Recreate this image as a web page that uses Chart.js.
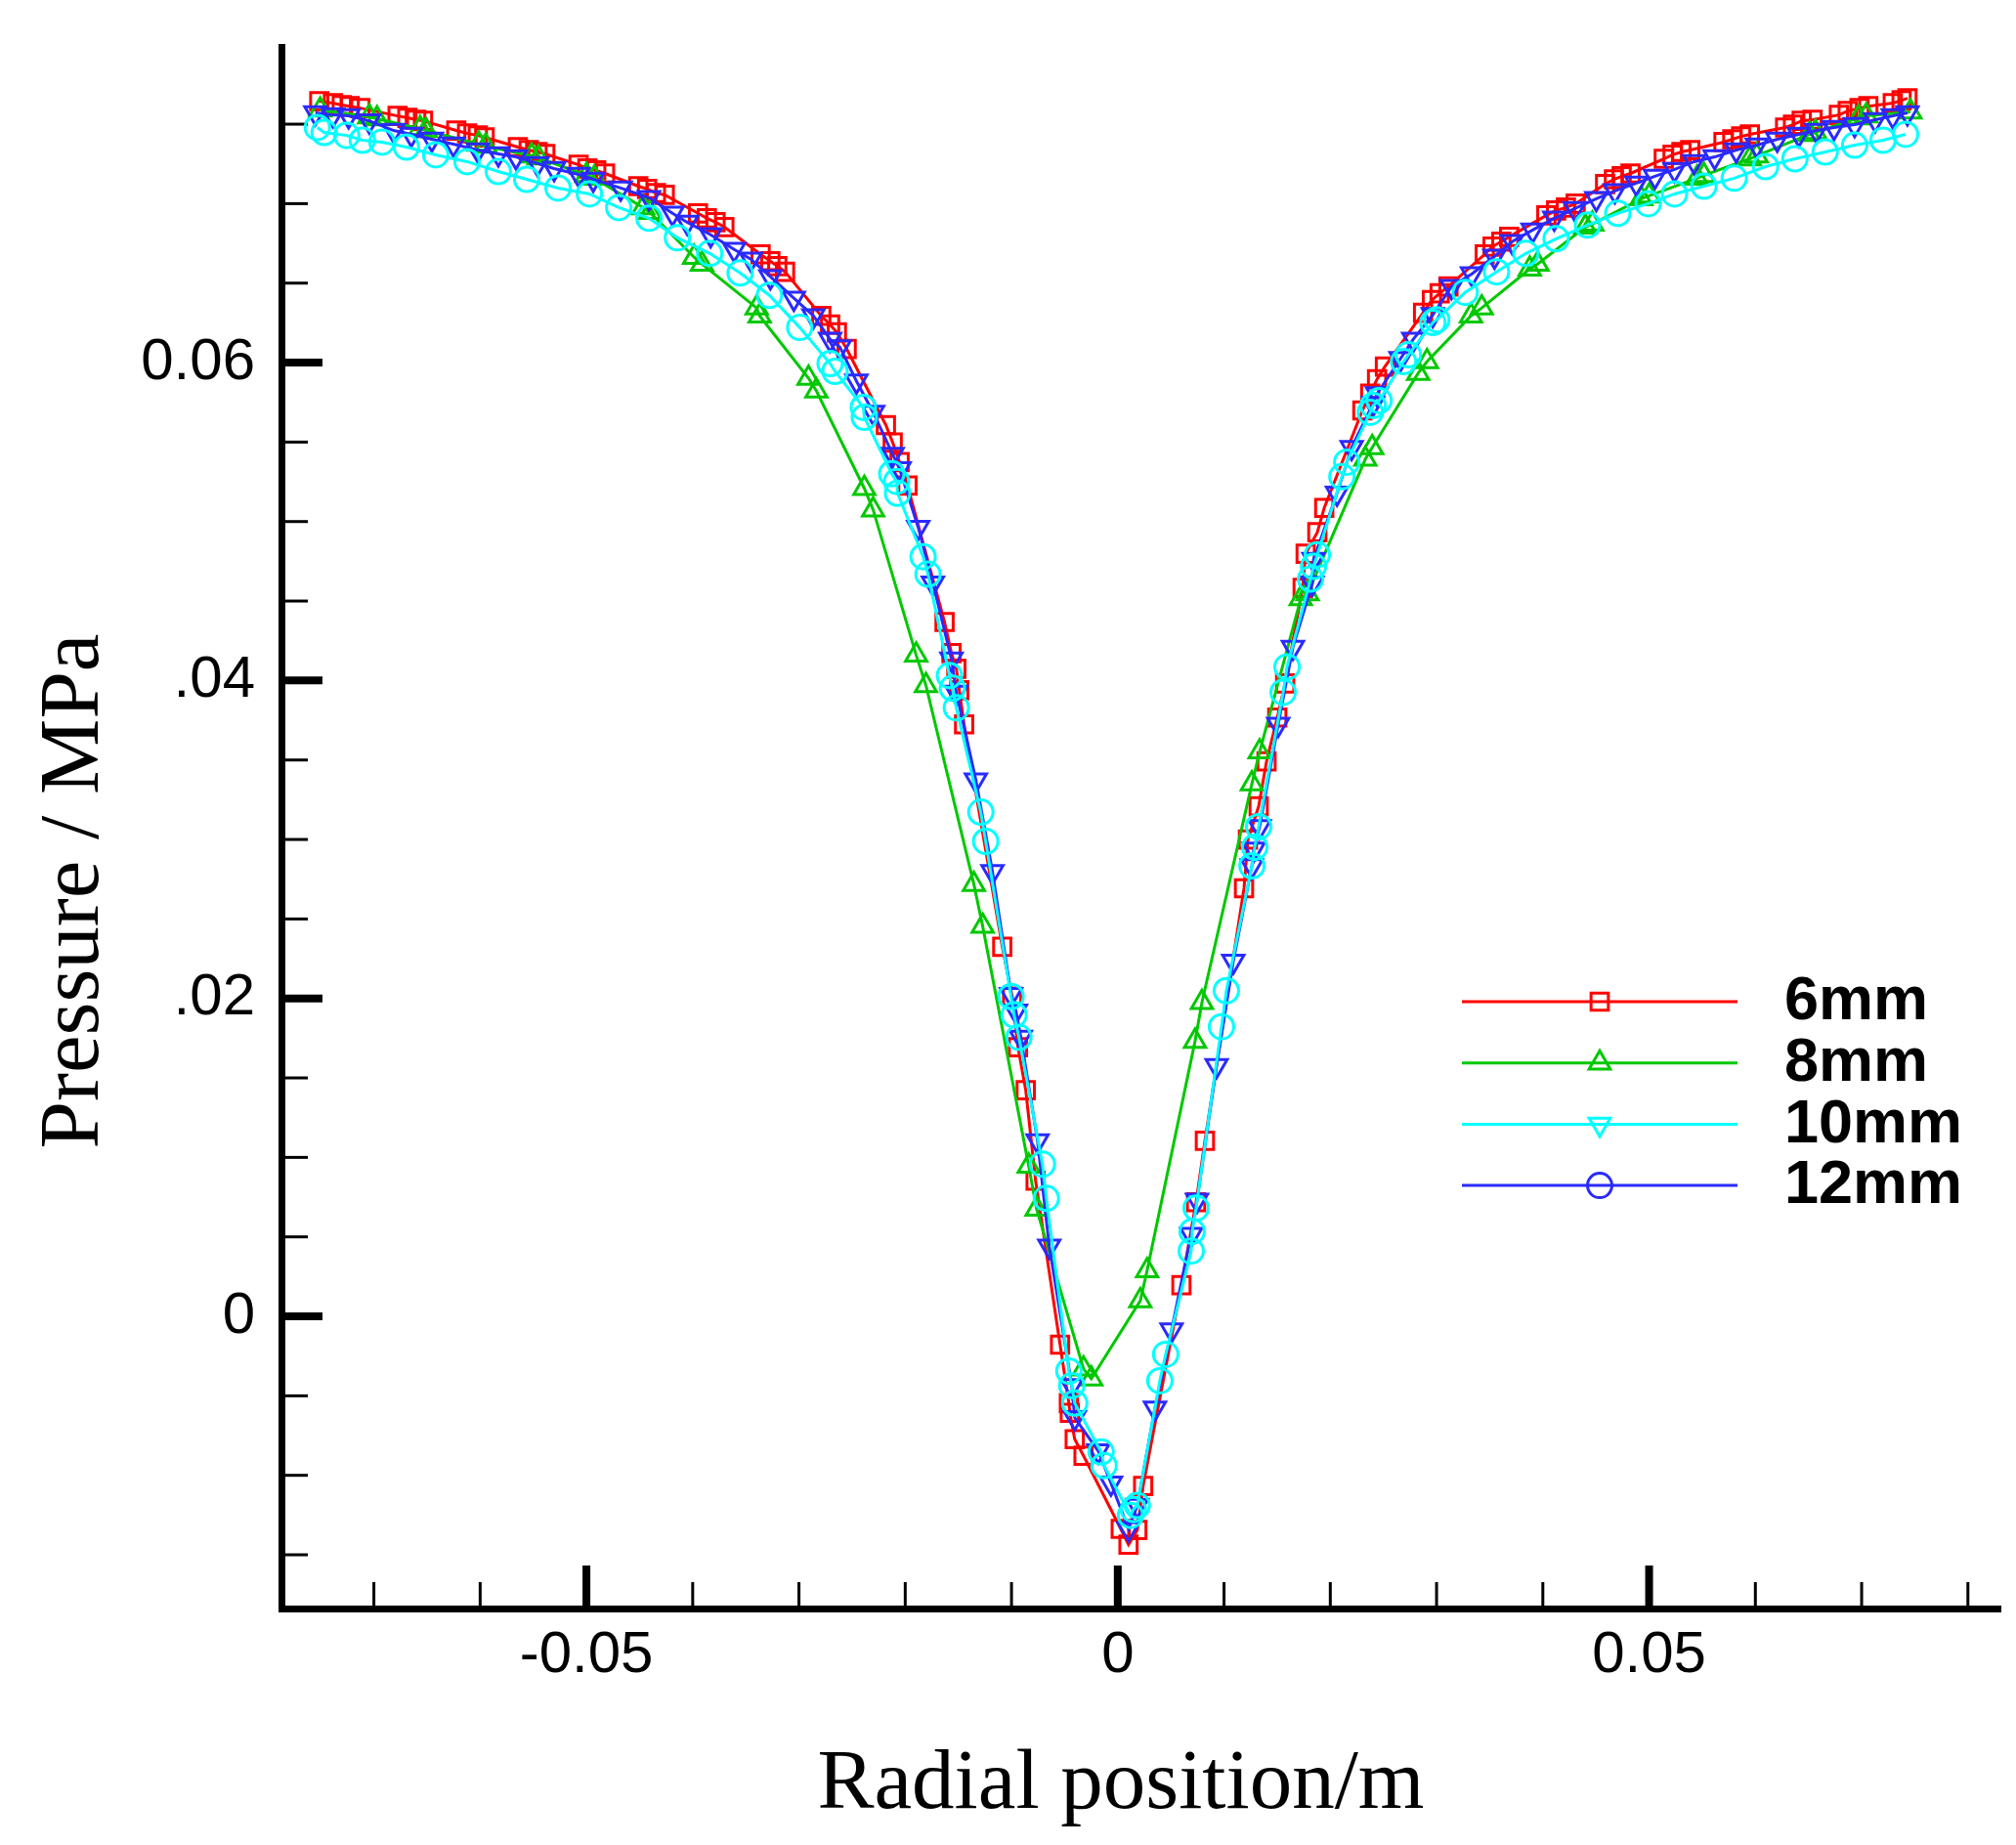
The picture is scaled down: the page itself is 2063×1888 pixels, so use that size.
<!DOCTYPE html>
<html>
<head>
<meta charset="utf-8">
<script src="https://cdn.jsdelivr.net/npm/chart.js@4.4.0/dist/chart.umd.min.js"></script>
<style>
  html, body { margin: 0; padding: 0; background: #fff; }
  #wrap { width: 2063px; height: 1888px; }
</style>
</head>
<body>
<div id="wrap"><canvas id="myChart" width="2063" height="1888"></canvas></div>
<script>
// 6mm (red squares)
const x6 = [
  -0.07514, -0.07385, -0.07302, -0.07228, -0.07127,
  -0.06777, -0.06685, -0.06602, -0.06538,
  -0.06225, -0.06123, -0.06022, -0.05958,
  -0.05645, -0.05543, -0.05460, -0.05387,
  -0.05074, -0.04991, -0.04908, -0.04825,
  -0.04512, -0.04429, -0.04346, -0.04263,
  -0.03950, -0.03867, -0.03785, -0.03702,
  -0.03361, -0.03269, -0.03204, -0.03131,
  -0.02790, -0.02707, -0.02643, -0.02551,
  -0.02182, -0.02118, -0.02053, -0.01979,
  -0.01630, -0.01565, -0.01519, -0.01492, -0.01446,
  -0.01087, -0.00994, -0.00939, -0.00866, -0.00773,
  -0.00543, -0.00460, -0.00451, -0.00405, -0.00322,
  0.00028, 0.00101, 0.00184, 0.00239,
  0.00599, 0.00737, 0.00820,
  0.01188, 0.01225, 0.01326, 0.01400,
  0.01501, 0.01575,
  0.01740, 0.01768, 0.01878, 0.01943,
  0.02302, 0.02376, 0.02440, 0.02514,
  0.02873, 0.02956, 0.03029, 0.03112,
  0.03453, 0.03527, 0.03610, 0.03683,
  0.04033, 0.04125, 0.04217, 0.04309,
  0.04586, 0.04669, 0.04742, 0.04825,
  0.05138, 0.05221, 0.05304, 0.05387,
  0.05700, 0.05783, 0.05866, 0.05948,
  0.06280, 0.06354, 0.06436, 0.06538,
  0.06786, 0.06869, 0.06980, 0.07063,
  0.07293, 0.07376, 0.07431
];
const y6 = [
  0.07644, 0.07632, 0.07620, 0.07613, 0.07601,
  0.07552, 0.07540, 0.07528, 0.07521,
  0.07460, 0.07442, 0.07429, 0.07417,
  0.07356, 0.07337, 0.07325, 0.07313,
  0.07245, 0.07221, 0.07209, 0.07190,
  0.07110, 0.07092, 0.07067, 0.07055,
  0.06939, 0.06908, 0.06883, 0.06853,
  0.06681, 0.06638, 0.06607, 0.06571,
  0.06294, 0.06239, 0.06190, 0.06086,
  0.05607, 0.05497, 0.05374, 0.05227,
  0.04368, 0.04172, 0.04074, 0.03939, 0.03724,
  0.02325, 0.02012, 0.01693, 0.01423, 0.00853,
  -0.00178, -0.00546, -0.00607, -0.00773, -0.00877,
  -0.01337, -0.01436, -0.01344, -0.01067,
  0.00196, 0.00718, 0.01104,
  0.02693, 0.03000, 0.03209, 0.03491,
  0.03767, 0.03982,
  0.04583, 0.04798, 0.04933, 0.05086,
  0.05699, 0.05804, 0.05896, 0.05975,
  0.06313, 0.06393, 0.06436, 0.06479,
  0.06681, 0.06730, 0.06761, 0.06791,
  0.06926, 0.06957, 0.06975, 0.07000,
  0.07123, 0.07153, 0.07172, 0.07190,
  0.07282, 0.07307, 0.07325, 0.07337,
  0.07387, 0.07405, 0.07423, 0.07436,
  0.07479, 0.07497, 0.07521, 0.07528,
  0.07558, 0.07583, 0.07601, 0.07613,
  0.07632, 0.07650, 0.07663
];

// 8mm (green triangles)
const x8 = [
  -0.07505, -0.07044, -0.06971, -0.06565, -0.06510, -0.06013, -0.05948, -0.05516, -0.05451, -0.05000,
  -0.04926, -0.04466, -0.04401, -0.03987, -0.03913, -0.03398, -0.03370, -0.02910, -0.02836, -0.02385,
  -0.02302, -0.01897, -0.01805, -0.01354, -0.01271, -0.00838, -0.00764, -0.00322, -0.00249, 0.00212,
  0.00276, 0.00727, 0.00792, 0.01262, 0.01335, 0.01722, 0.01786, 0.02330, 0.02394, 0.02827,
  0.02910, 0.03324, 0.03425, 0.03877, 0.03950, 0.04401, 0.04466, 0.04926, 0.05000, 0.05451,
  0.05516, 0.05948, 0.06013, 0.06510, 0.06565, 0.06971, 0.07044, 0.07459
];
const y8 = [
  0.07589, 0.07546, 0.07534, 0.07472, 0.07460, 0.07374, 0.07362, 0.07301, 0.07288, 0.07178,
  0.07160, 0.06975, 0.06945, 0.06663, 0.06620, 0.06344, 0.06294, 0.05902, 0.05822, 0.05209,
  0.05074, 0.04160, 0.03969, 0.02718, 0.02454, 0.00945, 0.00675, -0.00331, -0.00393, 0.00098,
  0.00288, 0.01730, 0.01975, 0.03350, 0.03552, 0.04515, 0.04546, 0.05393, 0.05466, 0.05933,
  0.06006, 0.06294, 0.06344, 0.06589, 0.06620, 0.06853, 0.06871, 0.07031, 0.07049, 0.07160,
  0.07178, 0.07282, 0.07301, 0.07436, 0.07448, 0.07540, 0.07552, 0.07577
];

// 10mm (cyan line, circles in the plot)
const x10 = [
  -0.07532, -0.07468, -0.07256, -0.07109, -0.06924, -0.06694, -0.06418, -0.06123, -0.05829, -0.05562,
  -0.05267, -0.04972, -0.04696, -0.04411, -0.04144, -0.03840, -0.03554, -0.03278, -0.02993, -0.02707,
  -0.02661, -0.02394, -0.02385, -0.02127, -0.02081, -0.02072, -0.01832, -0.01786, -0.01584, -0.01556,
  -0.01519, -0.01289, -0.01243, -0.01004, -0.00976, -0.00930, -0.00709, -0.00672, -0.00460, -0.00433,
  -0.00405, -0.00157, -0.00129, 0.00120, 0.00147, 0.00184, 0.00396, 0.00451, 0.00691, 0.00700,
  0.00737, 0.00976, 0.01022, 0.01262, 0.01289, 0.01326, 0.01556, 0.01593, 0.01814, 0.01842,
  0.01878, 0.02109, 0.02155, 0.02376, 0.02403, 0.02459, 0.02689, 0.02735, 0.02965, 0.03002,
  0.03269, 0.03564, 0.03840, 0.04125, 0.04420, 0.04705, 0.04991, 0.05239, 0.05516, 0.05801,
  0.06096, 0.06372, 0.06657, 0.06934, 0.07201, 0.07413
];
const y10 = [
  0.07479, 0.07448, 0.07429, 0.07399, 0.07387, 0.07356, 0.07307, 0.07264, 0.07202, 0.07153,
  0.07098, 0.07061, 0.06975, 0.06908, 0.06785, 0.06687, 0.06564, 0.06423, 0.06221, 0.05994,
  0.05945, 0.05718, 0.05656, 0.05301, 0.05252, 0.05178, 0.04779, 0.04669, 0.04031, 0.03951,
  0.03828, 0.03172, 0.02988, 0.02012, 0.01896, 0.01755, 0.00957, 0.00742, -0.00344, -0.00436,
  -0.00546, -0.00853, -0.00939, -0.01252, -0.01215, -0.01190, -0.00405, -0.00239, 0.00411, 0.00534,
  0.00681, 0.01822, 0.02049, 0.02834, 0.02951, 0.03080, 0.03926, 0.04086, 0.04638, 0.04718,
  0.04791, 0.05282, 0.05374, 0.05687, 0.05730, 0.05761, 0.06006, 0.06049, 0.06252, 0.06270,
  0.06442, 0.06571, 0.06687, 0.06779, 0.06865, 0.06939, 0.07000, 0.07061, 0.07110, 0.07160,
  0.07233, 0.07282, 0.07325, 0.07368, 0.07399, 0.07436
];

// 12mm (blue line, down triangles in the plot)
const x12 = [
  -0.07551, -0.07385, -0.07238, -0.07044, -0.06814, -0.06648, -0.06455, -0.06252, -0.06022, -0.05829,
  -0.05663, -0.05460, -0.05304, -0.05074, -0.04936, -0.04678, -0.04411, -0.04190, -0.04052, -0.03831,
  -0.03610, -0.03453, -0.03269, -0.03048, -0.02864, -0.02707, -0.02615, -0.02459, -0.02302, -0.02118,
  -0.02053, -0.01878, -0.01740, -0.01565, -0.01519, -0.01335, -0.01179, -0.01004, -0.00958, -0.00912,
  -0.00755, -0.00645, -0.00433, -0.00405, -0.00184, -0.00064, 0.00101, 0.00184, 0.00350, 0.00506,
  0.00691, 0.00746, 0.00930, 0.01087, 0.01262, 0.01280, 0.01335, 0.01510, 0.01648, 0.01832,
  0.01842, 0.02063, 0.02201, 0.02403, 0.02440, 0.02661, 0.02781, 0.02965, 0.03140, 0.03333,
  0.03545, 0.03711, 0.03904, 0.04107, 0.04300, 0.04503, 0.04678, 0.04880, 0.05055, 0.05239,
  0.05424, 0.05617, 0.05820, 0.06013, 0.06206, 0.06409, 0.06575, 0.06740, 0.06934, 0.07127,
  0.07293, 0.07431
];
const y12 = [
  0.07571, 0.07558, 0.07552, 0.07521, 0.07460, 0.07436, 0.07405, 0.07374, 0.07337, 0.07313,
  0.07294, 0.07252, 0.07221, 0.07184, 0.07153, 0.07098, 0.07037, 0.06939, 0.06883, 0.06804,
  0.06712, 0.06650, 0.06540, 0.06405, 0.06294, 0.06147, 0.06098, 0.05883, 0.05687, 0.05423,
  0.05331, 0.04963, 0.04613, 0.04135, 0.03926, 0.03374, 0.02798, 0.02025, 0.01920, 0.01755,
  0.01104, 0.00442, -0.00436, -0.00638, -0.00847, -0.01049, -0.01337, -0.01190, -0.00577, -0.00086,
  0.00515, 0.00730, 0.01577, 0.02233, 0.02834, 0.02939, 0.03080, 0.03724, 0.04209, 0.04613,
  0.04761, 0.05178, 0.05466, 0.05742, 0.05804, 0.06025, 0.06147, 0.06301, 0.06479, 0.06558,
  0.06669, 0.06761, 0.06834, 0.06908, 0.06969, 0.07031, 0.07080, 0.07129, 0.07172, 0.07215,
  0.07264, 0.07294, 0.07337, 0.07368, 0.07405, 0.07436, 0.07460, 0.07479, 0.07497, 0.07528,
  0.07552, 0.07571
];

// axis ticks and labels
const xTickValues = [-0.05, 0, 0.05];
const xTickLabels = ['-0.05', '0', '0.05'];
const xMinorTicks = [-0.07, -0.06, -0.04, -0.03, -0.02, -0.01, 0.01, 0.02, 0.03, 0.04, 0.06, 0.07, 0.08];
const yTickValues = [0, 0.02, 0.04, 0.06];
const yTickLabels = ['0', '.02', '.04', '0.06'];
const yMinorTicks = [-0.015, -0.01, -0.005, 0.005, 0.01, 0.015, 0.025, 0.03, 0.035, 0.045, 0.05, 0.055, 0.065, 0.07, 0.075];

const seriesLabels = ['6mm', '8mm', '10mm', '12mm'];
const RED = '#ff0000', GREEN = '#00c800', CYAN = '#00ffff', BLUE = '#2a2aff';

function toPoints(xs, ys)
{
    return xs.map((x, i) => ({ x: x, y: ys[i] }));
}

function makeSet(label, xs, ys, color, style, rotation, order)
{
    return {
        label: label,
        data: toPoints(xs, ys),
        showLine: true,
        borderColor: color,
        borderWidth: 3,
        pointStyle: style,
        pointRotation: rotation,
        pointRadius: 12.5,
        pointHoverRadius: 12.5,
        pointBorderWidth: 3,
        pointBorderColor: color,
        pointBackgroundColor: 'rgba(0,0,0,0)',
        tension: 0,
        order: order
    };
}

// ticks drawn pointing into the plot, like the original
const inwardTicks = {
    id: 'inwardTicks',
    beforeDatasetsDraw(chart)
    {
        const ctx = chart.ctx;
        const xs = chart.scales.x, ys = chart.scales.y;
        const area = chart.chartArea;
        ctx.save();
        ctx.strokeStyle = '#000';
        ctx.lineCap = 'butt';

        ctx.lineWidth = 8;
        yTickValues.forEach(v => {
            let py = ys.getPixelForValue(v);
            ctx.beginPath(); ctx.moveTo(area.left, py); ctx.lineTo(area.left + 42, py); ctx.stroke();
        });
        xTickValues.forEach(v => {
            let px = xs.getPixelForValue(v);
            ctx.beginPath(); ctx.moveTo(px, area.bottom); ctx.lineTo(px, area.bottom - 44); ctx.stroke();
        });

        ctx.lineWidth = 3;
        yMinorTicks.forEach(v => {
            let py = ys.getPixelForValue(v);
            ctx.beginPath(); ctx.moveTo(area.left, py); ctx.lineTo(area.left + 27, py); ctx.stroke();
        });
        xMinorTicks.forEach(v => {
            let px = xs.getPixelForValue(v);
            ctx.beginPath(); ctx.moveTo(px, area.bottom); ctx.lineTo(px, area.bottom - 27); ctx.stroke();
        });
        ctx.restore();
    }
};

function drawMarker(ctx, style, x, y, r)
{
    ctx.beginPath();
    if (style == 'rect') {
        let s = Math.SQRT1_2 * r;
        ctx.rect(x - s, y - s, 2 * s, 2 * s);
    } else if (style == 'circle') {
        ctx.arc(x, y, r, 0, Math.PI * 2);
    } else {
        let dir = (style == 'triangle') ? 1 : -1;
        let w = r * Math.sin(Math.PI / 3);
        ctx.moveTo(x, y - dir * r);
        ctx.lineTo(x + w, y + dir * r / 2);
        ctx.lineTo(x - w, y + dir * r / 2);
        ctx.closePath();
    }
    ctx.stroke();
}

// legend as in the original figure (markers there differ from the plot for 10/12mm)
const legendStyles = [
    { color: RED, marker: 'rect' },
    { color: GREEN, marker: 'triangle' },
    { color: CYAN, marker: 'triangleDown' },
    { color: BLUE, marker: 'circle' }
];

const figureText = {
    id: 'figureText',
    afterDraw(chart)
    {
        const ctx = chart.ctx;
        ctx.save();
        // legend
        for (let i = 0; i < seriesLabels.length; i++) {
            let y = 1025 + i * 62.7;
            let st = legendStyles[i];
            ctx.strokeStyle = st.color;
            ctx.lineWidth = 3;
            ctx.beginPath(); ctx.moveTo(1496, y); ctx.lineTo(1778, y); ctx.stroke();
            drawMarker(ctx, st.marker, 1637, y, 12.5);
            ctx.fillStyle = '#000';
            ctx.font = 'bold 63px "Liberation Sans", Arial, sans-serif';
            ctx.textAlign = 'left';
            ctx.textBaseline = 'middle';
            ctx.fillText(seriesLabels[i], 1826, y + 1);
        }
        // axis titles
        ctx.fillStyle = '#000';
        ctx.font = '87px "Liberation Serif", "Times New Roman", serif';
        ctx.textAlign = 'center';
        ctx.textBaseline = 'alphabetic';
        ctx.fillText('Radial position/m', 1147, 1850);
        ctx.translate(100, 912);
        ctx.rotate(-Math.PI / 2);
        ctx.fillText('Pressure / MPa', 0, 0);
        ctx.restore();
    }
};

const tickFont = { family: '"Liberation Sans", Arial, sans-serif', size: 60 };

let config = {
    type: 'scatter',
    data: {
        datasets: [
            makeSet(seriesLabels[0], x6, y6, RED, 'rect', 0, 4),
            makeSet(seriesLabels[1], x8, y8, GREEN, 'triangle', 0, 3),
            makeSet(seriesLabels[3], x12, y12, BLUE, 'triangle', 180, 2),
            makeSet(seriesLabels[2], x10, y10, CYAN, 'circle', 0, 1)
        ]
    },
    options: {
        responsive: false,
        animation: false,
        devicePixelRatio: 1,
        layout: { padding: { left: 0, top: 48, right: 13, bottom: 0 } },
        plugins: {
            legend: { display: false },
            tooltip: { enabled: false }
        },
        scales: {
            x: {
                type: 'linear',
                min: -0.0787,
                max: 0.0831,
                afterFit: (scale) => {
                    scale.height = 242;
                    scale.paddingLeft = 0;
                    scale.paddingRight = 0;
                },
                afterBuildTicks: (scale) => { scale.ticks = xTickValues.map(v => ({ value: v })); },
                grid: { display: false, drawTicks: false },
                border: { display: true, width: 7, color: '#000' },
                ticks: {
                    autoSkip: false,
                    maxRotation: 0,
                    padding: 12,
                    color: '#000',
                    font: tickFont,
                    callback: (value, index) => xTickLabels[index]
                }
            },
            y: {
                type: 'linear',
                min: -0.01838,
                max: 0.07986,
                afterFit: (scale) => {
                    scale.width = 288;
                    scale.paddingTop = 0;
                    scale.paddingBottom = 0;
                },
                afterBuildTicks: (scale) => { scale.ticks = yTickValues.map(v => ({ value: v })); },
                grid: { display: false, drawTicks: false },
                border: { display: true, width: 7, color: '#000' },
                ticks: {
                    autoSkip: false,
                    padding: 27,
                    color: '#000',
                    font: tickFont,
                    callback: (value, index) => yTickLabels[index]
                }
            }
        }
    },
    plugins: [inwardTicks, figureText]
};

const chart = new Chart(document.getElementById('myChart'), config);
</script>
</body>
</html>
